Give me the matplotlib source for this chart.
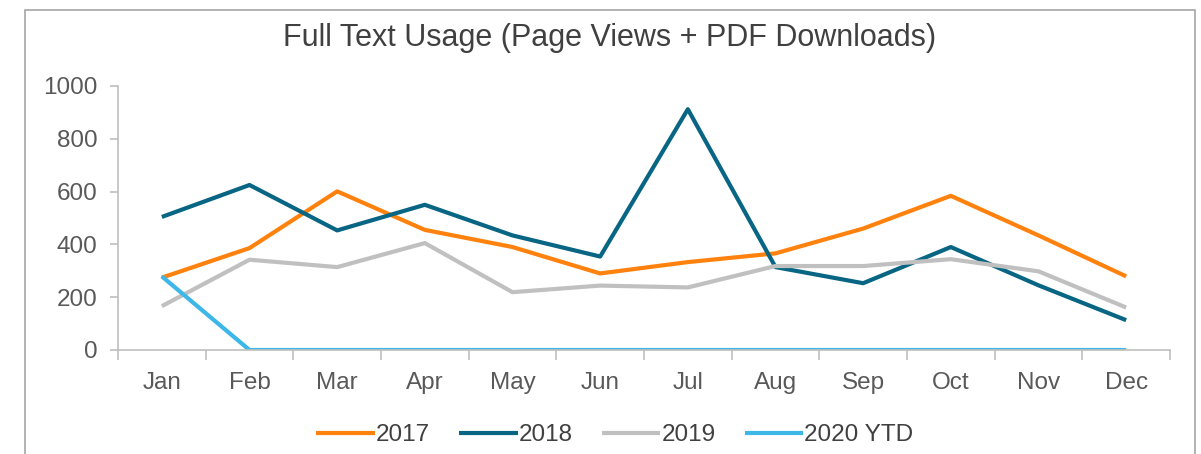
import matplotlib.pyplot as plt
from matplotlib.patches import Rectangle

months = ["Jan", "Feb", "Mar", "Apr", "May", "Jun", "Jul", "Aug", "Sep", "Oct", "Nov", "Dec"]
y2017 = [274, 386, 601, 455, 390, 290, 333, 366, 460, 584, 434, 279]
y2018 = [504, 625, 453, 550, 434, 354, 912, 314, 253, 390, 245, 113]
y2019 = [166, 342, 314, 405, 219, 244, 237, 318, 318, 344, 298, 161]
y2020 = [279, 0, 0, 0, 0, 0, 0, 0, 0, 0, 0, 0]

series = [("2017", y2017, "#FF820F"), ("2018", y2018, "#086684"),
          ("2019", y2019, "#C0C0C0"), ("2020 YTD", y2020, "#3DB6E8")]

plt.rcParams['font.family'] = ['Liberation Sans', 'DejaVu Sans']

fig = plt.figure(figsize=(12.01, 4.54), dpi=100)
fig.patches.append(Rectangle((25 / 1201, -0.05), 1170 / 1201, 1 - 10 / 454 + 0.05,
                             transform=fig.transFigure, fill=False,
                             edgecolor="#A6A6A6", linewidth=1.2))

ax = fig.add_axes([118 / 1201, 1 - 350 / 454, (1170 - 118) / 1201, 264 / 454])
x = list(range(len(months)))
for name, vals, col in series:
    ax.plot(x, vals, color=col, linewidth=3, label=name, solid_capstyle="butt")

ax.set_xlim(-0.5, 11.5)
ax.set_ylim(0, 1000)
ax.set_yticks(range(0, 1001, 200))
ax.set_xticks(x)
ax.set_xticklabels(months)
ax.set_xticks([i - 0.5 for i in range(13)], minor=True)
ax.tick_params(axis="x", which="major", length=0, pad=16, labelsize=17.5, labelcolor="#595959")
ax.tick_params(axis="x", which="minor", length=7, color="#BFBFBF", width=1.2)
ax.tick_params(axis="y", length=6, color="#BFBFBF", width=1.2, pad=9,
               labelsize=17.5, labelcolor="#595959")
for s in ["top", "right"]:
    ax.spines[s].set_visible(False)
for s in ["left", "bottom"]:
    ax.spines[s].set_color("#BFBFBF")
    ax.spines[s].set_linewidth(1.2)
ax.set_zorder(1)

fig.text(610 / 1201, 1 - 38 / 454, "Full Text Usage (Page Views + PDF Downloads)",
         ha="center", va="center", fontsize=22, color="#404040")

fig.legend(loc="center", bbox_to_anchor=(615 / 1201, 1 - 435 / 454), ncol=4,
           frameon=False, fontsize=17.5, handlelength=2.4, handletextpad=0.05,
           columnspacing=1.2, labelcolor="#404040")

fig.savefig("out.png", dpi=100)
